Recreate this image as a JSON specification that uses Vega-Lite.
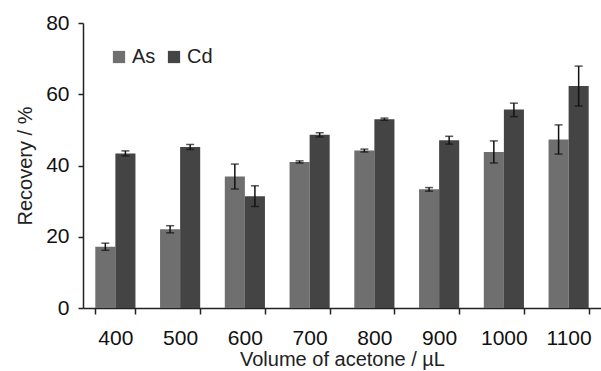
{
  "$schema": "https://vega.github.io/schema/vega-lite/v6.json",
  "width": 518,
  "height": 285,
  "autosize": {"type": "none"},
  "padding": {"left": 83, "top": 23, "right": 0, "bottom": 63},
  "background": "white",
  "config": {
    "view": {"stroke": null},
    "font": "Liberation Sans"
  },
  "data": {
    "values": [
      {"vol": "400", "metal": "As", "value": 17.2, "lo": 16.2, "hi": 18.2},
      {"vol": "400", "metal": "Cd", "value": 43.4, "lo": 42.7, "hi": 44.1},
      {"vol": "500", "metal": "As", "value": 22.1, "lo": 21.1, "hi": 23.1},
      {"vol": "500", "metal": "Cd", "value": 45.2, "lo": 44.5, "hi": 45.9},
      {"vol": "600", "metal": "As", "value": 36.9, "lo": 33.4, "hi": 40.4},
      {"vol": "600", "metal": "Cd", "value": 31.4, "lo": 28.5, "hi": 34.3},
      {"vol": "700", "metal": "As", "value": 41.0, "lo": 40.7, "hi": 41.3},
      {"vol": "700", "metal": "Cd", "value": 48.6, "lo": 48.0, "hi": 49.2},
      {"vol": "800", "metal": "As", "value": 44.2, "lo": 43.8, "hi": 44.6},
      {"vol": "800", "metal": "Cd", "value": 53.0, "lo": 52.7, "hi": 53.3},
      {"vol": "900", "metal": "As", "value": 33.3, "lo": 32.8, "hi": 33.8},
      {"vol": "900", "metal": "Cd", "value": 47.1, "lo": 46.0, "hi": 48.2},
      {"vol": "1000", "metal": "As", "value": 43.8, "lo": 40.7, "hi": 46.9},
      {"vol": "1000", "metal": "Cd", "value": 55.7, "lo": 53.7, "hi": 57.5},
      {"vol": "1100", "metal": "As", "value": 47.3, "lo": 43.2, "hi": 51.4},
      {"vol": "1100", "metal": "Cd", "value": 62.3, "lo": 56.7, "hi": 67.9}
    ]
  },
  "encoding": {
    "x": {
      "field": "vol",
      "type": "ordinal",
      "sort": null,
      "scale": {"paddingInner": 0.38, "paddingOuter": 0.19},
      "axis": {
        "title": "Volume of acetone / µL",
        "titleFontSize": 20,
        "titleFontWeight": "normal",
        "titleColor": "#222",
        "titlePadding": 1,
        "labelFontSize": 21,
        "labelColor": "#111",
        "labelAngle": 0,
        "labelPadding": 13,
        "tickBand": "extent",
        "tickSize": 6,
        "tickColor": "#222",
        "domainColor": "#222",
        "domainWidth": 1.5,
        "tickWidth": 1.5
      }
    },
    "xOffset": {"field": "metal", "type": "nominal", "scale": {"paddingInner": 0, "paddingOuter": 0}}
  },
  "layer": [
    {
      "mark": {"type": "bar"},
      "encoding": {
        "y": {
          "field": "value",
          "type": "quantitative",
          "scale": {"domain": [0, 80]},
          "axis": {
            "title": "Recovery / %",
            "titleFontSize": 20,
            "titleFontWeight": "normal",
            "titleColor": "#222",
            "titlePadding": 10,
            "labelFontSize": 21,
            "labelColor": "#111",
            "labelPadding": 9,
            "values": [0, 20, 40, 60, 80],
            "grid": false,
            "tickSize": 5,
            "tickColor": "#222",
            "tickWidth": 1.5,
            "domainColor": "#222",
            "domainWidth": 1.5
          }
        },
        "color": {
          "field": "metal",
          "type": "nominal",
          "scale": {"domain": ["As", "Cd"], "range": ["#6f6f6f", "#444444"]},
          "legend": {
            "title": null,
            "orient": "none",
            "legendX": 26,
            "legendY": 24,
            "direction": "horizontal",
            "symbolType": "square",
            "symbolSize": 150,
            "symbolStrokeWidth": 0,
            "labelFontSize": 20,
            "labelColor": "#222",
            "labelOffset": 3,
            "columnPadding": 8
          }
        }
      }
    },
    {
      "mark": {"type": "rule", "color": "#111", "strokeWidth": 1.5},
      "encoding": {
        "y": {"field": "lo", "type": "quantitative"},
        "y2": {"field": "hi"}
      }
    },
    {
      "mark": {"type": "tick", "color": "#111", "thickness": 1.5, "size": 8},
      "encoding": {
        "y": {"field": "lo", "type": "quantitative"}
      }
    },
    {
      "mark": {"type": "tick", "color": "#111", "thickness": 1.5, "size": 8},
      "encoding": {
        "y": {"field": "hi", "type": "quantitative"}
      }
    }
  ]
}
